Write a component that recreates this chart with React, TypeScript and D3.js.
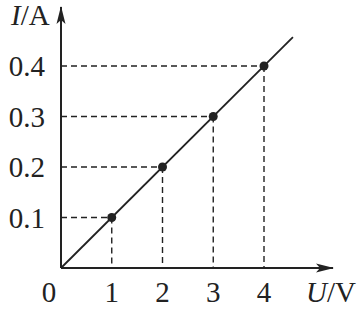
import React from "react";
import * as d3 from "d3";

const uValues = [1, 2, 3, 4];
const iValues = [0.1, 0.2, 0.3, 0.4];
const xTickLabels = ["1", "2", "3", "4"];
const yTickLabels = ["0.1", "0.2", "0.3", "0.4"];
const lineEnd = { u: 4.57, i: 0.457 };

const W = 358;
const H = 309;

export default function App() {
  const x = d3.scaleLinear().domain([0, 4]).range([61, 264]);
  const y = d3.scaleLinear().domain([0, 0.4]).range([268, 66]);
  const font = "'Liberation Serif', 'Times New Roman', serif";
  const fs = 29;
  const line = d3.line<[number, number]>()
    .x((d) => x(d[0]))
    .y((d) => y(d[1]));

  return (
    <svg
      width={W}
      height={H}
      style={{ position: "absolute", left: 0, top: 0, background: "#fff" }}
      fontFamily={font}
    >
      <defs>
        <marker id="arr" viewBox="0 0 18 10" refX="17" refY="5" markerWidth="18" markerHeight="10" markerUnits="userSpaceOnUse" orient="auto">
          <path d="M0,0.5 L18,5 L0,9.5 L4,5 Z" fill="#222" />
        </marker>
      </defs>
      {uValues.map((u, k) => (
        <g key={k} stroke="#222" strokeWidth={1.4} strokeDasharray="6,4" fill="none">
          <line x1={x(0)} x2={x(u)} y1={y(iValues[k])} y2={y(iValues[k])} />
          <line x1={x(u)} x2={x(u)} y1={y(iValues[k])} y2={y(0)} />
        </g>
      ))}
      <line x1={x(0)} y1={y(0)} x2={333} y2={y(0)} stroke="#222" strokeWidth={2} markerEnd="url(#arr)" />
      <line x1={x(0)} y1={y(0)} x2={x(0)} y2={7} stroke="#222" strokeWidth={2} markerEnd="url(#arr)" />
      <path d={line([[0, 0], [lineEnd.u, lineEnd.i]]) || ""} stroke="#222" strokeWidth={1.8} fill="none" />
      {uValues.map((u, k) => (
        <circle key={k} cx={x(u)} cy={y(iValues[k])} r={4.5} fill="#222" />
      ))}
      {xTickLabels.map((t, k) => (
        <text key={k} x={x(uValues[k])} y={302} fontSize={fs} textAnchor="middle" fill="#222">{t}</text>
      ))}
      <text x={49} y={302} fontSize={fs} textAnchor="middle" fill="#222">0</text>
      {yTickLabels.map((t, k) => (
        <text key={k} x={45} y={y(iValues[k])} dy="0.35em" fontSize={fs} textAnchor="end" fill="#222">{t}</text>
      ))}
      <text x={356} y={302} fontSize={fs} textAnchor="end" fill="#222">
        <tspan fontStyle="italic">U</tspan>/V
      </text>
      <text x={11} y={25} fontSize={fs} fill="#222">
        <tspan fontStyle="italic">I</tspan>/A
      </text>
    </svg>
  );
}
